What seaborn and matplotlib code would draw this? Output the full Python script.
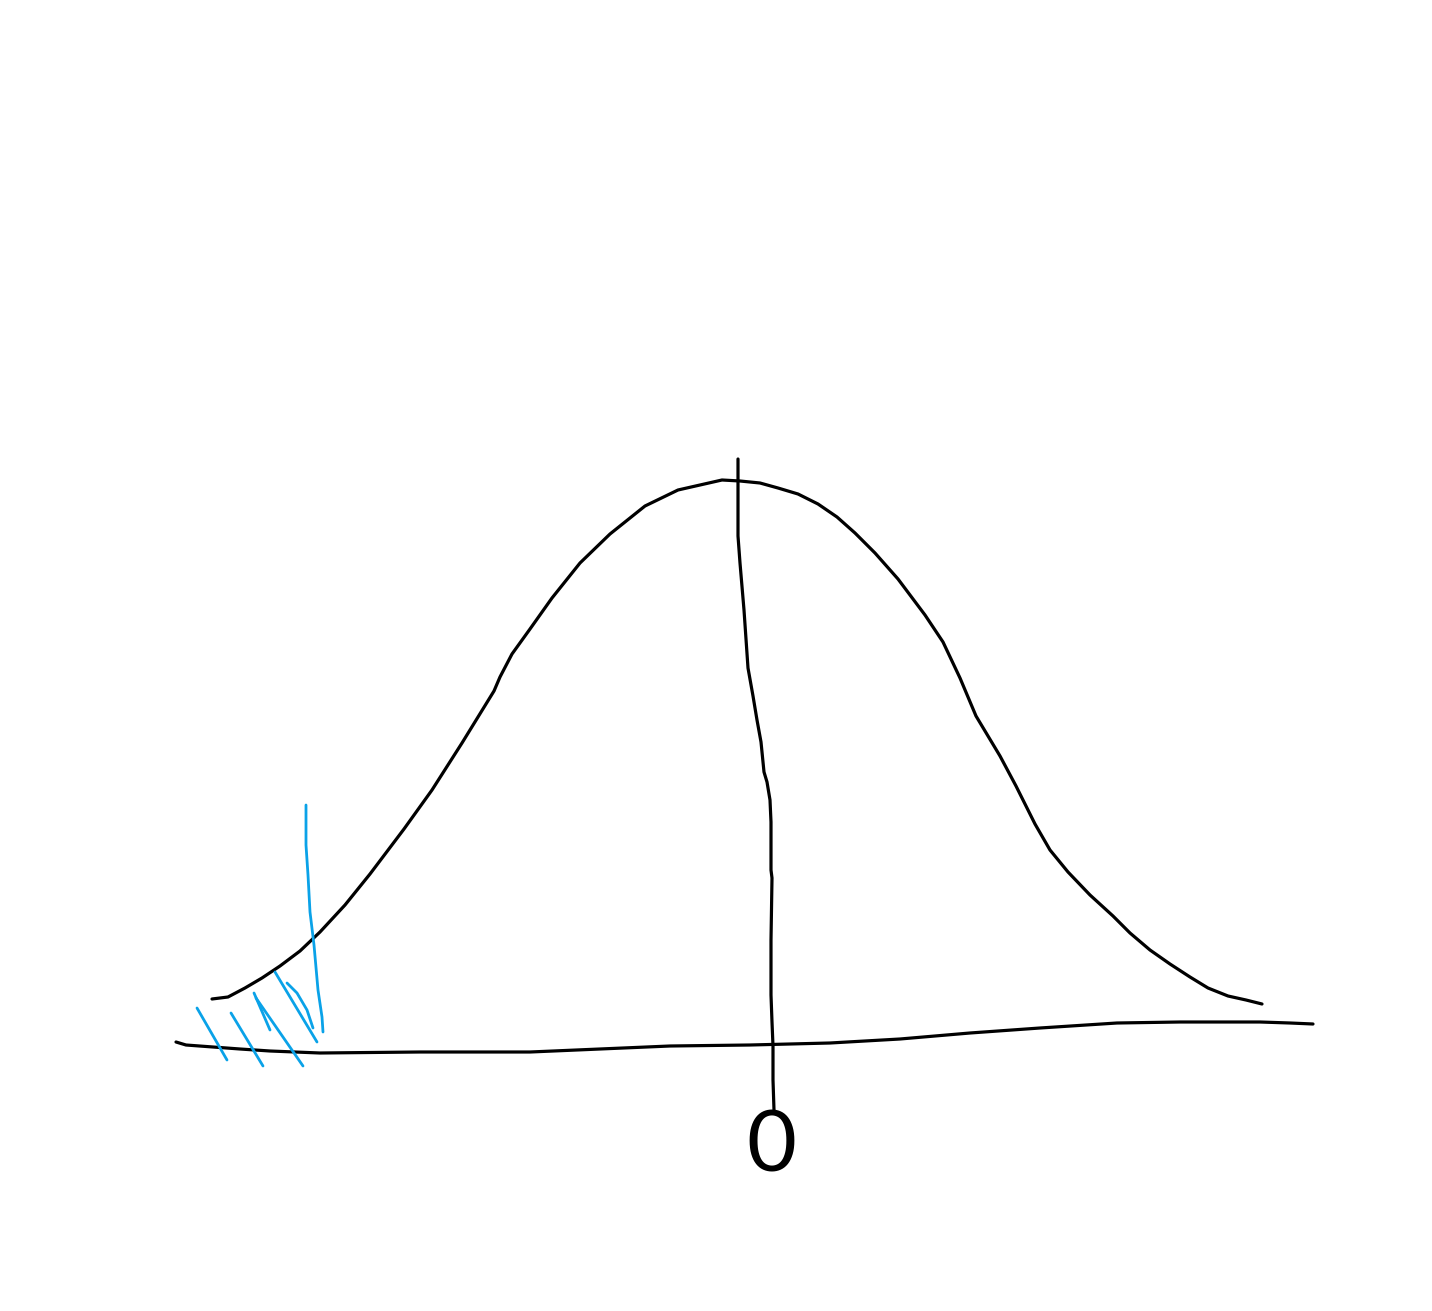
import numpy as np
import pandas as pd
import matplotlib
matplotlib.use("Agg")
import matplotlib.pyplot as plt
import seaborn as sns

# === Sketch strokes, in picture pixel coordinates (x right, y down) ===
curve_x = [212, 228, 245, 262, 280, 300, 320, 345, 370, 404, 432, 462, 494, 500, 512, 530, 552, 580,
           610, 645, 678, 700, 722, 740, 760, 778, 798, 818, 837, 855, 875, 898, 925, 943, 960, 976,
           1000, 1016, 1035, 1050, 1068, 1090, 1113, 1130, 1150, 1170, 1190, 1208, 1228, 1246, 1262]
curve_y = [999, 997, 988, 978, 966, 951, 932, 905, 874, 829, 790, 743, 691, 677, 654, 629, 598, 563,
           534, 506, 490, 485, 480, 481, 483, 488, 494, 504, 517, 533, 553, 579, 615, 642, 678, 716,
           756, 786, 824, 850, 872, 895, 916, 933, 950, 964, 977, 988, 996, 1000, 1004]

base_x = [176, 186, 213, 240, 270, 320, 420, 530, 600, 670, 750, 830, 900, 970, 1040, 1117, 1180, 1260, 1290, 1313]
base_y = [1042, 1045, 1047, 1049, 1051, 1053, 1052, 1052, 1049, 1046, 1045, 1043, 1039, 1033, 1028, 1023, 1022, 1022, 1023, 1024]

mean_x = [738, 738, 740, 744, 748, 753, 757, 761, 764, 767, 770, 771, 771, 772, 771, 771, 772, 773, 773, 774]
mean_y = [459, 536, 563, 610, 668, 696, 720, 742, 772, 782, 800, 822, 870, 878, 940, 995, 1022, 1046, 1080, 1110]

cut_x = [306, 306, 308, 310, 314, 318, 322, 323]
cut_y = [805, 845, 875, 912, 945, 990, 1017, 1032]

# hatch strokes in the shaded tail
hatches = [
    ([197, 227], [1008, 1060]),
    ([231, 263], [1013, 1066]),
    ([254, 270], [993, 1030]),
    ([256, 303], [998, 1066]),
    ([275, 317], [972, 1042]),
    ([287, 297, 307, 313], [983, 993, 1010, 1028]),
]

label_text = "0"
label_pos = (771, 1148)

black = "#000000"
blue = "#0aa2e8"

sns.set_style("white")
fig = plt.figure(figsize=(14.32, 13.11), dpi=100)
ax = fig.add_axes([0, 0, 1, 1])


def stroke(xs, ys, color, lw):
    df = pd.DataFrame({"x": xs, "y": ys})
    sns.lineplot(data=df, x="x", y="y", sort=False, estimator=None, color=color,
                 linewidth=lw, ax=ax, solid_capstyle="round", solid_joinstyle="round")


stroke(base_x, base_y, black, 2.3)
stroke(curve_x, curve_y, black, 2.3)
stroke(mean_x, mean_y, black, 2.3)
stroke(cut_x, cut_y, blue, 2.0)
for hx, hy in hatches:
    stroke(hx, hy, blue, 2.0)

ax.text(label_pos[0], label_pos[1], label_text, fontsize=62, color=black,
        ha="center", va="center", family="Lato")

ax.set_xlim(0, 1432)
ax.set_ylim(1311, 0)
ax.axis("off")

fig.savefig("out.png", dpi=100, facecolor="white")
